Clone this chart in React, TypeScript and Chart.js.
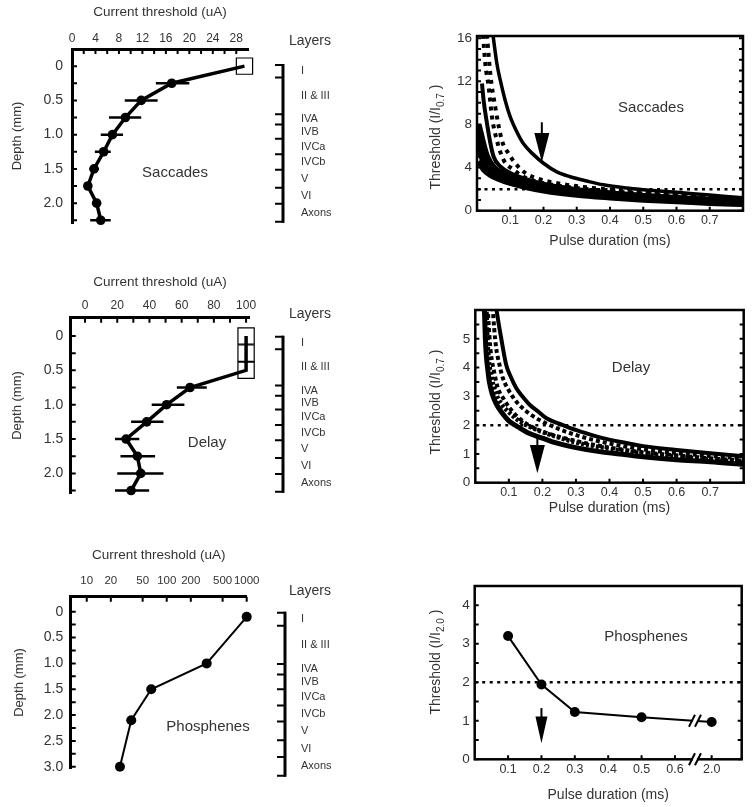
import React, { useEffect, useRef } from 'react';
import { Chart, registerables } from 'chart.js';

Chart.register(...registerables);

type Pt = [number, number];

const FONT = '"Liberation Sans", Arial, Helvetica, sans-serif';
const TEXT = '#333333';
const INK = '#000000';

// ---------------- shared: cortical layers ----------------
const LAYER_NAMES = ['I', 'II & III', 'IVA', 'IVB', 'IVCa', 'IVCb', 'V', 'VI', 'Axons'];
const LAYER_BOUNDS = [0, 0.08, 0.315, 0.38, 0.47, 0.57, 0.668, 0.783, 0.885, 1];

// ---------------- depth axes ----------------
const DEPTH_LABELS_A = [0, 0.5, 1.0, 1.5, 2.0];
const DEPTH_MINOR_A = [0, 0.25, 0.5, 0.75, 1.0, 1.25, 1.5, 1.75, 2.0, 2.25];
const DEPTH_LABELS_B = [0, 0.5, 1.0, 1.5, 2.0, 2.5, 3.0];
const DEPTH_MINOR_B = [0, 0.25, 0.5, 0.75, 1.0, 1.25, 1.5, 1.75, 2.0, 2.25, 2.5, 2.75, 3.0];

// ---------------- Saccades: depth profile ----------------
const SAC_X_LABELS = [0, 4, 8, 12, 16, 20, 24, 28];
const SAC_X_MINOR = [0, 2, 4, 6, 8, 10, 12, 14, 16, 18, 20, 22, 24, 26, 28];
const SAC_DEPTH = [0, 0.25, 0.5, 0.75, 1.0, 1.25, 1.5, 1.75, 2.0, 2.25];
const SAC_THRESH = [29.4, 17.0, 11.8, 9.1, 6.9, 5.4, 3.75, 2.7, 4.2, 4.9];
const SAC_ERR_LO = [null, 14.3, 9.0, 6.3, 4.9, 3.9, 3.0, 2.25, 3.65, 3.1];
const SAC_ERR_HI = [null, 20.0, 14.6, 11.8, 8.7, 6.6, 4.6, 3.2, 4.9, 6.6];
const SAC_BOXED = [true, false, false, false, false, false, false, false, false, false];

// ---------------- Delay: depth profile ----------------
const DEL_X_LABELS = [0, 20, 40, 60, 80, 100];
const DEL_X_MINOR = [0, 10, 20, 30, 40, 50, 60, 70, 80, 90, 100];
const DEL_DEPTH = [0, 0.25, 0.5, 0.75, 1.0, 1.25, 1.5, 1.75, 2.0, 2.25];
const DEL_THRESH = [100, 100, 100, 65.2, 50.7, 38.3, 25.5, 32.5, 34.6, 28.6];
const DEL_ERR_LO = [null, null, null, 57, 41.4, 28.6, 18.6, 22, 20, 18.6];
const DEL_ERR_HI = [null, null, null, 75.6, 61.7, 48.7, 33.7, 43.5, 48.7, 39.8];
const DEL_BOXED = [true, true, true, false, false, false, false, false, false, false];

// ---------------- Phosphenes: depth profile ----------------
const PHO_X_LABELS = [10, 20, 50, 100, 200, 500, 1000];
const PHO_DEPTH = [0.1, 1.0, 1.5, 2.1, 3.0];
const PHO_THRESH = [1000, 316, 64, 36, 26];

// ---------------- strength-duration axes ----------------
const PULSE_LABELS = [0.1, 0.2, 0.3, 0.4, 0.5, 0.6, 0.7];
const REF_LEVEL = 2;

// Saccades strength-duration (I / I0.7)
const SAC_SD_Y_LABELS = [0, 4, 8, 12, 16];
const SAC_SD_Y_MINOR = [0, 1, 2, 3, 4, 5, 6, 7, 8, 9, 10, 11, 12, 13, 14, 15, 16];
const SAC_OUTER: Pt[] = [[0.048, 16.3], [0.06, 13.6], [0.07, 12.1], [0.085, 10.2], [0.1, 8.7], [0.12, 7.3], [0.14, 6.2], [0.17, 5.2], [0.2, 4.4], [0.24, 3.6], [0.28, 3.15], [0.33, 2.75], [0.38, 2.4], [0.45, 2.1], [0.5, 1.95], [0.6, 1.7], [0.7, 1.45], [0.8, 1.2]];
const SAC_INNER: Pt[] = [[0.015, 11.8], [0.02, 10.2], [0.03, 8.1], [0.04, 6.3], [0.05, 5.0], [0.07, 4.1], [0.1, 3.5], [0.15, 2.9], [0.2, 2.5], [0.3, 2.0], [0.4, 1.7], [0.5, 1.45], [0.6, 1.25], [0.7, 1.05], [0.8, 0.95]];
const SAC_DASH_A: Pt[] = [[0.018, 16.3], [0.025, 13.6], [0.035, 11.5], [0.045, 8.7], [0.06, 6.5], [0.08, 4.7], [0.11, 3.8], [0.14, 3.15], [0.18, 2.7], [0.25, 2.3], [0.35, 1.95], [0.5, 1.6], [0.65, 1.3], [0.8, 1.1]];
const SAC_DASH_B: Pt[] = [[0.03, 16.3], [0.04, 12.7], [0.055, 9.6], [0.075, 6.5], [0.095, 5.3], [0.115, 4.4], [0.145, 3.5], [0.18, 3.0], [0.25, 2.5], [0.35, 2.1], [0.5, 1.7], [0.65, 1.4], [0.8, 1.15]];
const SAC_BAND_0: Pt[] = [[0.003, 7.6], [0.008, 6.6], [0.015, 5.7], [0.025, 4.9], [0.04, 4.2], [0.06, 3.7], [0.1, 3.1], [0.15, 2.6], [0.2, 2.2], [0.3, 1.75], [0.4, 1.45], [0.5, 1.25], [0.6, 1.05], [0.7, 0.9], [0.8, 0.8]];
const SAC_BAND_1: Pt[] = [[0.004, 8.0], [0.012, 7.0], [0.02, 6.0], [0.03, 5.0], [0.05, 4.0], [0.08, 3.4], [0.12, 2.9], [0.2, 2.3], [0.3, 1.85], [0.4, 1.55], [0.5, 1.35], [0.6, 1.15], [0.7, 1.0], [0.8, 0.9]];
const SAC_BAND_2: Pt[] = [[0.004, 6.3], [0.015, 5.0], [0.025, 4.2], [0.04, 3.6], [0.07, 3.0], [0.1, 2.65], [0.15, 2.3], [0.2, 2.05], [0.3, 1.6], [0.4, 1.35], [0.5, 1.15], [0.6, 0.95], [0.7, 0.8], [0.8, 0.7]];
const SAC_BAND_3: Pt[] = [[0.004, 4.6], [0.02, 3.8], [0.04, 3.3], [0.06, 3.0], [0.1, 2.55], [0.15, 2.15], [0.2, 1.85], [0.3, 1.45], [0.4, 1.2], [0.5, 1.0], [0.6, 0.85], [0.7, 0.7], [0.8, 0.6]];
const SAC_ARROW = { x: 0.195, top: 8.2, base: 7.2, tip: 4.5 };

// Delay strength-duration (I / I0.7)
const DEL_SD_Y_LABELS = [0, 1, 2, 3, 4, 5];
const DEL_SD_Y_MINOR = [0, 0.5, 1, 1.5, 2, 2.5, 3, 3.5, 4, 4.5, 5, 5.5];
const DEL_OUTER: Pt[] = [[0.062, 6.1], [0.07, 5.5], [0.077, 5.03], [0.092, 4.1], [0.105, 3.7], [0.122, 3.29], [0.14, 3.0], [0.162, 2.71], [0.19, 2.45], [0.212, 2.24], [0.25, 2.05], [0.283, 1.9], [0.33, 1.72], [0.38, 1.55], [0.45, 1.38], [0.5, 1.27], [0.6, 1.14], [0.7, 1.02], [0.8, 0.92]];
const DEL_INNER: Pt[] = [[0.027, 6.1], [0.03, 5.0], [0.033, 4.4], [0.037, 3.95], [0.042, 3.5], [0.05, 3.1], [0.062, 2.75], [0.08, 2.42], [0.1, 2.15], [0.13, 1.92], [0.16, 1.72], [0.2, 1.55], [0.23, 1.42], [0.3, 1.22], [0.37, 1.08], [0.45, 0.97], [0.5, 0.9], [0.6, 0.8], [0.7, 0.73], [0.8, 0.63]];
const DEL_DASH_A: Pt[] = [[0.052, 6.1], [0.056, 5.4], [0.062, 4.7], [0.072, 4.1], [0.082, 3.64], [0.1, 3.2], [0.122, 2.82], [0.15, 2.5], [0.182, 2.24], [0.242, 1.9], [0.31, 1.62], [0.4, 1.36], [0.5, 1.16], [0.6, 1.03], [0.7, 0.93], [0.8, 0.84]];
const DEL_DASH_B: Pt[] = [[0.037, 6.1], [0.042, 5.1], [0.047, 4.45], [0.057, 3.8], [0.067, 3.3], [0.085, 2.9], [0.102, 2.6], [0.125, 2.3], [0.152, 2.05], [0.2, 1.78], [0.3, 1.45], [0.4, 1.22], [0.5, 1.06], [0.6, 0.95], [0.7, 0.85], [0.8, 0.76]];
const DEL_BAND: Pt[] = [[0.033, 6.1], [0.036, 5.0], [0.04, 4.3], [0.048, 3.7], [0.06, 3.15], [0.08, 2.7], [0.1, 2.45], [0.13, 2.15], [0.17, 1.9], [0.22, 1.68], [0.3, 1.4], [0.4, 1.18], [0.5, 1.02], [0.6, 0.9], [0.7, 0.8], [0.8, 0.7]];
const DEL_ARROW = { x: 0.185, top: 1.6, base: 1.31, tip: 0.33 };

// Phosphenes strength-duration (I / I2.0)
const PHO_SD_Y_LABELS = [0, 1, 2, 3, 4];
const PHO_SD_Y_MINOR = [0, 0.5, 1, 1.5, 2, 2.5, 3, 3.5, 4];
const PHO_PULSE = [0.1, 0.2, 0.3, 0.5, 2.0];
const PHO_SD = [3.2, 1.94, 1.23, 1.09, 0.97];
const PHO_PULSE_LABELS = [0.1, 0.2, 0.3, 0.4, 0.5, 0.6, 2.0];
const PHO_ARROW = { x: 0.2, top: 1.33, base: 1.11, tip: 0.42 };
// axis break: the 2.0 ms value sits just past 0.7 on the broken axis
const BREAK_AT = 0.66;
const BREAK_SLOT = 0.71;
const BREAK_CURVE_Y = 1.0;
const brokenPos = (v: number) => (v > 1 ? BREAK_SLOT : v);

// ---------------- helpers ----------------
const font = (size: number) => ({ family: FONT, size, weight: 'normal' as const, lineHeight: 1.2 });
const fixSize = (n: number) => (s: any) => {
  if (s.isHorizontal()) s.height = n;
  else s.width = n;
};
const useTicks = (vals: number[]) => (s: any) => {
  s.ticks = vals.map((v) => ({ value: v }));
};
const noGrid = { display: false, drawTicks: false };
const fmtDepth = (v: any) => (Number(v) === 0 ? '0' : Number(v).toFixed(1));

function drawRichVertical(ctx: any, x: number, y: number, main: string, sub: string, tail: string) {
  ctx.save();
  ctx.translate(x, y);
  ctx.rotate(-Math.PI / 2);
  ctx.fillStyle = TEXT;
  ctx.textBaseline = 'middle';
  ctx.textAlign = 'left';
  const f1 = `14px ${FONT}`;
  const f2 = `10px ${FONT}`;
  ctx.font = f1;
  const w1 = ctx.measureText(main).width;
  const w3 = ctx.measureText(tail).width;
  ctx.font = f2;
  const w2 = ctx.measureText(sub).width;
  let cx = -(w1 + w2 + w3) / 2;
  ctx.font = f1;
  ctx.fillText(main, cx, 0);
  cx += w1;
  ctx.font = f2;
  ctx.fillText(sub, cx, 5);
  cx += w2;
  ctx.font = f1;
  ctx.fillText(tail, cx, 0);
  ctx.restore();
}

function decor(d: any) {
  return {
    id: 'decor',
    afterDraw(chart: any) {
      const ctx = chart.ctx;
      const a = chart.chartArea;
      ctx.save();
      ctx.strokeStyle = INK;
      ctx.fillStyle = INK;
      ctx.lineCap = 'butt';
      if (d.frame) {
        ctx.lineWidth = d.frame;
        ctx.strokeRect(a.left, a.top, a.right - a.left, a.bottom - a.top);
      }
      for (const t of d.ticks || []) {
        const s = chart.scales[t.axis];
        ctx.lineWidth = t.width;
        ctx.beginPath();
        for (const v of t.values) {
          const p = s.getPixelForValue(v);
          if (t.side === 'left') { ctx.moveTo(a.left, p); ctx.lineTo(a.left + t.len, p); }
          if (t.side === 'right') { ctx.moveTo(a.right, p); ctx.lineTo(a.right - t.len, p); }
          if (t.side === 'top') { ctx.moveTo(p, a.top); ctx.lineTo(p, a.top + t.len); }
          if (t.side === 'bottom') { ctx.moveTo(p, a.bottom); ctx.lineTo(p, a.bottom - t.len); }
        }
        ctx.stroke();
      }
      if (d.errors) {
        const e = d.errors;
        const xs = chart.scales.x;
        const ys = chart.scales.y;
        ctx.lineWidth = 2.5;
        ctx.beginPath();
        e.ys.forEach((yv: number, i: number) => {
          if (e.lo[i] == null || e.hi[i] == null) return;
          const py = ys.getPixelForValue(yv);
          ctx.moveTo(xs.getPixelForValue(e.lo[i]), py);
          ctx.lineTo(xs.getPixelForValue(e.hi[i]), py);
        });
        ctx.stroke();
      }
      if (d.layers) {
        const L = d.layers;
        const s = chart.scales.yL;
        const n = LAYER_BOUNDS.length;
        const top = s.getPixelForValue(LAYER_BOUNDS[0]);
        const bot = s.getPixelForValue(LAYER_BOUNDS[n - 1]);
        ctx.lineWidth = 3;
        ctx.beginPath();
        ctx.moveTo(L.x, top - 1);
        ctx.lineTo(L.x, bot + 1);
        ctx.stroke();
        ctx.lineWidth = 2;
        ctx.beginPath();
        for (const b of LAYER_BOUNDS) {
          const p = s.getPixelForValue(b);
          ctx.moveTo(L.x + 1, p);
          ctx.lineTo(L.x - 8, p);
        }
        ctx.stroke();
        ctx.fillStyle = TEXT;
        ctx.font = `11px ${FONT}`;
        ctx.textAlign = 'left';
        ctx.textBaseline = 'middle';
        LAYER_NAMES.forEach((name, i) => {
          const p = s.getPixelForValue((LAYER_BOUNDS[i] + LAYER_BOUNDS[i + 1]) / 2);
          ctx.fillText(name, L.labelX, p);
        });
        ctx.font = `14px ${FONT}`;
        ctx.textAlign = 'center';
        ctx.fillText('Layers', L.titleX, L.titleY);
        ctx.fillStyle = INK;
      }
      if (d.arrow) {
        const r = d.arrow;
        const xs = chart.scales.x;
        const ys = chart.scales.y;
        const px = xs.getPixelForValue(r.x);
        const pt = ys.getPixelForValue(r.top);
        const pb = ys.getPixelForValue(r.base);
        const pk = ys.getPixelForValue(r.tip);
        ctx.lineWidth = 2;
        ctx.beginPath();
        ctx.moveTo(px, pt);
        ctx.lineTo(px, pb + 1);
        ctx.stroke();
        ctx.beginPath();
        ctx.moveTo(px - r.half, pb);
        ctx.lineTo(px + r.half, pb);
        ctx.lineTo(px, pk);
        ctx.closePath();
        ctx.fill();
      }
      if (d.breaks) {
        const xs = chart.scales.x;
        const ys = chart.scales.y;
        const px = xs.getPixelForValue(d.breaks.x);
        const rows = [a.bottom, ys.getPixelForValue(d.breaks.y)];
        for (const py of rows) {
          ctx.fillStyle = '#fff';
          ctx.fillRect(px - 2, py - 3, 4, 6);
          ctx.fillStyle = INK;
          ctx.lineWidth = 2;
          ctx.beginPath();
          for (const off of [-3, 3]) {
            ctx.moveTo(px + off - 3, py + 6);
            ctx.lineTo(px + off + 3, py - 6);
          }
          ctx.stroke();
        }
      }
      if (d.label) {
        ctx.fillStyle = TEXT;
        ctx.font = `15px ${FONT}`;
        ctx.textAlign = 'center';
        ctx.textBaseline = 'middle';
        ctx.fillText(d.label.text, d.label.x, d.label.y);
      }
      if (d.vtitle) {
        const v = d.vtitle;
        drawRichVertical(ctx, v.x, v.y, v.main, v.sub, v.tail);
      }
      ctx.restore();
    },
  };
}

const baseOptions = (padding: any) => ({
  responsive: false,
  animation: false,
  events: [],
  layout: { padding },
  plugins: { legend: { display: false }, tooltip: { enabled: false } },
});

// ---------------- depth-profile configs ----------------
function depthConfig(p: any) {
  const data = p.depth.map((d: number, i: number) => ({ x: p.thresh[i], y: d }));
  const boxed = p.boxed || p.depth.map(() => false);
  return {
    type: 'line',
    data: {
      datasets: [
        {
          data,
          borderColor: INK,
          borderWidth: p.lineWidth,
          pointStyle: boxed.map((b: boolean) => (b ? 'rect' : 'circle')),
          pointRadius: boxed.map((b: boolean) => (b ? 11.5 : p.pointR)),
          pointBackgroundColor: boxed.map((b: boolean) => (b ? 'rgba(0,0,0,0)' : INK)),
          pointBorderColor: INK,
          pointBorderWidth: boxed.map((b: boolean) => (b ? 1.2 : 0)),
          clip: false,
        },
      ],
    },
    options: {
      ...baseOptions(p.padding),
      scales: {
        x: {
          type: p.log ? 'logarithmic' : 'linear',
          position: 'top',
          min: p.xMin,
          max: p.xMax,
          afterBuildTicks: useTicks(p.xLabels),
          afterFit: fixSize(p.xSize),
          grid: noGrid,
          border: { display: true, width: 3, color: INK },
          ticks: { font: font(p.xFont || 12), color: TEXT, padding: p.xPad, autoSkip: false, maxRotation: 0, minRotation: 0, callback: (v: any) => String(v) },
          title: { display: true, text: 'Current threshold (uA)', font: font(13.5), color: TEXT, padding: 0 },
        },
        y: {
          type: 'linear',
          reverse: true,
          min: p.yMin,
          max: p.yMax,
          afterBuildTicks: useTicks(p.yLabels),
          afterFit: fixSize(p.ySize),
          grid: noGrid,
          border: { display: true, width: 3, color: INK },
          ticks: { font: font(14), color: TEXT, padding: p.yPad, autoSkip: false, callback: fmtDepth },
          title: { display: true, text: 'Depth (mm)', font: font(13), color: TEXT, padding: 0 },
        },
        yL: { type: 'linear', display: false, reverse: true, min: p.lMin, max: p.lMax },
      },
    },
    plugins: [
      decor({
        ticks: [
          { axis: 'x', side: 'top', values: p.xMinor, len: 5, width: 2 },
          { axis: 'y', side: 'left', values: p.yMinor, len: 5, width: 2 },
        ],
        errors: p.errLo ? { ys: p.depth, lo: p.errLo, hi: p.errHi } : null,
        layers: p.layers,
        label: p.label,
      }),
    ],
  };
}

const curve = (pts: Pt[], width: number, dash: number[] = []) => ({
  data: pts.map(([x, y]) => ({ x, y })),
  borderColor: INK,
  borderWidth: width,
  borderDash: dash,
  borderCapStyle: 'butt',
  pointRadius: 0,
  cubicInterpolationMode: 'monotone',
  fill: false,
});

const refLine = (xMin: number, xMax: number) => ({
  data: [{ x: xMin, y: REF_LEVEL }, { x: xMax, y: REF_LEVEL }],
  borderColor: INK,
  borderWidth: 2.5,
  borderDash: [3, 4.5],
  pointRadius: 0,
  fill: false,
});

function sdConfig(p: any) {
  return {
    type: 'line',
    data: { datasets: p.datasets },
    options: {
      ...baseOptions(p.padding),
      scales: {
        x: {
          type: 'linear',
          min: 0,
          max: 0.8,
          afterBuildTicks: useTicks(p.xTicks),
          afterFit: fixSize(p.xSize),
          grid: noGrid,
          border: { display: false },
          ticks: { font: font(12.5), color: TEXT, padding: p.xPad, autoSkip: false, maxRotation: 0, minRotation: 0, callback: p.xFmt || ((v: any) => Number(v).toFixed(1)) },
          title: { display: true, text: 'Pulse duration (ms)', font: font(14), color: TEXT, padding: 0 },
        },
        y: {
          type: 'linear',
          min: 0,
          max: p.yMax,
          afterBuildTicks: useTicks(p.yLabels),
          afterFit: fixSize(p.ySize),
          grid: noGrid,
          border: { display: false },
          ticks: { font: font(13.5), color: TEXT, padding: 5, autoSkip: false, callback: (v: any) => String(v) },
          title: { display: false },
        },
      },
    },
    plugins: [
      decor({
        frame: 2.5,
        ticks: [
          { axis: 'y', side: 'left', values: p.yMinor, len: 4, width: 2 },
          { axis: 'y', side: 'right', values: p.yMinor, len: 4, width: 2 },
          { axis: 'x', side: 'bottom', values: p.xTicks, len: 4, width: 2 },
        ],
        arrow: p.arrow,
        label: p.label,
        vtitle: p.vtitle,
        breaks: p.breaks,
      }),
    ],
  };
}

const makeSacDepth = () =>
  depthConfig({
    depth: SAC_DEPTH, thresh: SAC_THRESH, boxed: SAC_BOXED, errLo: SAC_ERR_LO, errHi: SAC_ERR_HI,
    lineWidth: 3.5, pointR: 4.8,
    padding: { left: 10, top: 4, right: 128, bottom: 27 },
    xMin: 0, xMax: 30, xLabels: SAC_X_LABELS, xMinor: SAC_X_MINOR, xSize: 45, xPad: 2.8,
    yMin: -0.25, yMax: 2.29, yLabels: DEPTH_LABELS_A, yMinor: DEPTH_MINOR_A, ySize: 62, yPad: 9,
    lMin: -0.102, lMax: 1.008,
    layers: { x: 283, labelX: 301, titleX: 310, titleY: 41 },
    label: { text: 'Saccades', x: 175, y: 173 },
  });

const makeDelDepth = () =>
  depthConfig({
    depth: DEL_DEPTH, thresh: DEL_THRESH, boxed: DEL_BOXED, errLo: DEL_ERR_LO, errHi: DEL_ERR_HI,
    lineWidth: 3.5, pointR: 4.8,
    padding: { left: 10, top: 14, right: 126.7, bottom: 16.7 },
    xMin: -8.9, xMax: 102, xLabels: DEL_X_LABELS, xMinor: DEL_X_MINOR, xSize: 43.7, xPad: 4.5,
    yMin: -0.266, yMax: 2.29, yLabels: DEPTH_LABELS_A, yMinor: DEPTH_MINOR_A, ySize: 60.7, yPad: 7.4,
    lMin: -0.123, lMax: 1.01,
    layers: { x: 283, labelX: 301, titleX: 310, titleY: 54 },
    label: { text: 'Delay', x: 207, y: 183 },
  });

const makePhoDepth = () =>
  depthConfig({
    depth: PHO_DEPTH, thresh: PHO_THRESH, log: true,
    lineWidth: 2, pointR: 5,
    padding: { left: 12, top: 17.2, right: 129.3, bottom: 38.7 },
    xMin: 6.3, xMax: 1000, xLabels: PHO_X_LABELS, xMinor: PHO_X_LABELS, xSize: 49.5, xPad: 8.5, xFont: 11.5,
    yMin: -0.29, yMax: 3.03, yLabels: DEPTH_LABELS_B, yMinor: DEPTH_MINOR_B, ySize: 58.7, yPad: 7.4,
    lMin: -0.098, lMax: 0.955,
    layers: { x: 285, labelX: 301, titleX: 310, titleY: 61 },
    label: { text: 'Phosphenes', x: 208, y: 197 },
  });

const makeSacSD = () =>
  sdConfig({
    datasets: [
      curve(SAC_BAND_0, 6),
      curve(SAC_BAND_1, 6.5),
      curve(SAC_BAND_2, 6.5),
      curve(SAC_BAND_3, 5.5),
      curve(SAC_INNER, 4),
      curve(SAC_DASH_A, 4, [4, 5]),
      curve(SAC_DASH_B, 4, [4, 5]),
      curve(SAC_OUTER, 3.5),
      refLine(0, 0.8),
    ],
    padding: { left: 0, top: 36, right: 10, bottom: 0.6 },
    xTicks: PULSE_LABELS, xSize: 38.7, xPad: 2.8,
    yMax: 16.2, yLabels: SAC_SD_Y_LABELS, yMinor: SAC_SD_Y_MINOR, ySize: 101,
    arrow: { ...SAC_ARROW, half: 7.5 },
    label: { text: 'Saccades', x: 275, y: 108 },
    vtitle: { x: 60, y: 137, main: 'Threshold (I/I', sub: '0.7', tail: ' )' },
  });

const makeDelSD = () =>
  sdConfig({
    datasets: [
      curve(DEL_INNER, 5),
      curve(DEL_BAND, 4.5, [3, 2]),
      curve(DEL_DASH_B, 4, [4, 3]),
      curve(DEL_DASH_A, 4, [4, 3]),
      curve(DEL_OUTER, 4),
      refLine(0, 0.8),
    ],
    padding: { left: 0, top: 50, right: 9.3, bottom: 9.6 },
    xTicks: PULSE_LABELS, xSize: 33.7, xPad: 2.5,
    yMax: 6, yLabels: DEL_SD_Y_LABELS, yMinor: DEL_SD_Y_MINOR, ySize: 99.3,
    arrow: { ...DEL_ARROW, half: 7.5 },
    label: { text: 'Delay', x: 255, y: 108 },
    vtitle: { x: 60, y: 142, main: 'Threshold (I/I', sub: '0.7', tail: ' )' },
  });

const makePhoSD = () =>
  sdConfig({
    datasets: [
      {
        data: PHO_PULSE.map((t, i) => ({ x: brokenPos(t), y: PHO_SD[i] })),
        borderColor: INK,
        borderWidth: 2,
        pointRadius: 5,
        pointBackgroundColor: INK,
        pointBorderWidth: 0,
        fill: false,
        clip: false,
      },
      refLine(0, 0.8),
    ],
    padding: { left: 0, top: 56, right: 11.3, bottom: 3.6 },
    xTicks: PHO_PULSE_LABELS.map(brokenPos), xSize: 44.1, xPad: 2.8,
    xFmt: (v: any) => {
      const i = PHO_PULSE_LABELS.map(brokenPos).indexOf(Number(v));
      return i >= 0 ? PHO_PULSE_LABELS[i].toFixed(1) : '';
    },
    yMax: 4.5, yLabels: PHO_SD_Y_LABELS, yMinor: PHO_SD_Y_MINOR, ySize: 98.7,
    arrow: { ...PHO_ARROW, half: 6 },
    label: { text: 'Phosphenes', x: 270, y: 107 },
    vtitle: { x: 60, y: 132, main: 'Threshold (I/I', sub: '2.0', tail: ' )' },
    breaks: { x: BREAK_AT, y: BREAK_CURVE_Y },
  });

function Panel({ x, y, w, h, make }: { x: number; y: number; w: number; h: number; make: () => any }) {
  const ref = useRef<HTMLCanvasElement>(null);
  useEffect(() => {
    if (!ref.current) return;
    const chart = new Chart(ref.current, make());
    return () => chart.destroy();
  }, []);
  return (
    <canvas
      ref={ref}
      width={w}
      height={h}
      style={{ position: 'absolute', left: x, top: y, width: w, height: h, display: 'block' }}
    />
  );
}

export default function App() {
  Chart.defaults.font.family = FONT;
  return (
    <div style={{ position: 'absolute', left: 0, top: 0, width: 753, height: 807, background: '#ffffff', overflow: 'hidden' }}>
      <Panel x={0} y={0} w={376} h={250} make={makeSacDepth} />
      <Panel x={376} y={0} w={377} h={250} make={makeSacSD} />
      <Panel x={0} y={260} w={376} h={250} make={makeDelDepth} />
      <Panel x={376} y={260} w={377} h={266} make={makeDelSD} />
      <Panel x={0} y={530} w={376} h={277} make={makePhoDepth} />
      <Panel x={376} y={530} w={377} h={277} make={makePhoSD} />
    </div>
  );
}
